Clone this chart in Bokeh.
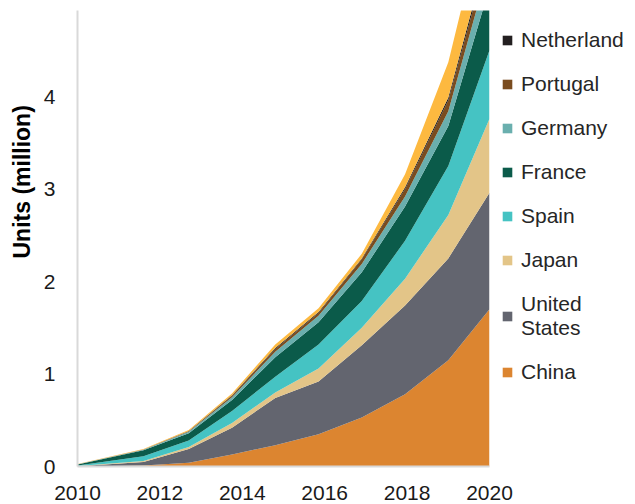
from bokeh.plotting import figure
from bokeh.models import Range1d, Legend, LegendItem, Title, FixedTicker, ColumnDataSource
from bokeh.embed import file_html
from bokeh.resources import INLINE

# ---- data (units, million) ----
years = [2010, 2011.6, 2012.7, 2013.75, 2014.8, 2015.85, 2016.9, 2017.95, 2019.0, 2020.0]
china = [0.0, 0.01, 0.04, 0.13, 0.23, 0.35, 0.53, 0.78, 1.15, 1.70]
united_states = [0.004, 0.04, 0.15, 0.29, 0.51, 0.57, 0.78, 0.96, 1.10, 1.26]
japan = [0.002, 0.01, 0.02, 0.05, 0.06, 0.14, 0.19, 0.29, 0.47, 0.80]
spain = [0.006, 0.05, 0.07, 0.13, 0.17, 0.26, 0.29, 0.41, 0.53, 0.74]
france = [0.010, 0.065, 0.08, 0.12, 0.21, 0.24, 0.31, 0.37, 0.43, 0.68]
germany = [0.001, 0.005, 0.015, 0.03, 0.06, 0.07, 0.09, 0.11, 0.16, 0.26]
portugal = [0.001, 0.003, 0.005, 0.015, 0.03, 0.03, 0.05, 0.08, 0.12, 0.15]
netherland = [0.0, 0.002, 0.005, 0.005, 0.01, 0.01, 0.01, 0.02, 0.03, 0.06]
other = [0.002, 0.005, 0.01, 0.02, 0.04, 0.04, 0.05, 0.14, 0.38, 0.55]

x_ticks = [2010, 2012, 2014, 2016, 2018, 2020]
y_ticks = [0, 1, 2, 3, 4, 5]

keys = ["china", "us", "japan", "spain", "france", "germany", "portugal", "netherland", "other"]
labels = ["China", "United\nStates", "Japan", "Spain", "France", "Germany", "Portugal", "Netherland", None]
colors = ["#DC8530", "#63656F", "#E3C588", "#45C3C3", "#0B5B4A", "#6AAFAE", "#7A4C1F", "#231F20", "#FDB940"]

src = ColumnDataSource(dict(x=years, china=china, us=united_states, japan=japan, spain=spain,
                            france=france, germany=germany, portugal=portugal,
                            netherland=netherland, other=other))

FONT = "Liberation Sans"

p = figure(frame_width=412, frame_height=456, output_backend="svg", toolbar_location=None,
           x_range=Range1d(2010, 2020), y_range=Range1d(0, 4.93),
           min_border_left=75, min_border_right=148, min_border_top=10, min_border_bottom=38)
p.outline_line_color = None
p.grid.visible = False
p.background_fill_color = "white"

rs = p.varea_stack(stackers=keys, x="x", color=colors, source=src)

for ax in (p.xaxis[0], p.yaxis[0]):
    ax.axis_line_color = "#D9D9D9"
    ax.axis_line_width = 2
    ax.major_tick_line_color = None
    ax.minor_tick_line_color = None
    ax.major_label_text_font = FONT
    ax.major_label_text_font_size = "21px"
    ax.major_label_text_color = "#1A1A1A"

p.xaxis.ticker = FixedTicker(ticks=x_ticks)
p.yaxis.ticker = FixedTicker(ticks=y_ticks)
p.xaxis.major_label_standoff = 13
p.yaxis.major_label_standoff = 16

items = []
for r, lab in zip(rs, labels):
    if lab is not None:
        items.append(LegendItem(label=lab, renderers=[r]))
items = items[::-1]

legend = Legend(items=items, location="top_left")
legend.padding = 0
legend.margin = 12
legend.border_line_color = None
legend.background_fill_alpha = 0
legend.title = " "
legend.title_text_font_size = "6px"
legend.title_standoff = 0
legend.glyph_width = 12
legend.glyph_height = 12
legend.label_standoff = 8
legend.label_height = 23
legend.label_text_font = FONT
legend.label_text_font_size = "21px"
legend.label_text_color = "#262626"
legend.spacing = 20
p.add_layout(legend, "right")

ytitle = Title(text="Units (million)", align="left", offset=208, standoff=12,
               text_font=FONT, text_font_size="23px", text_font_style="bold",
               text_color="#000000")
p.add_layout(ytitle, "left")

open("out.html", "w").write(file_html(p, INLINE))
